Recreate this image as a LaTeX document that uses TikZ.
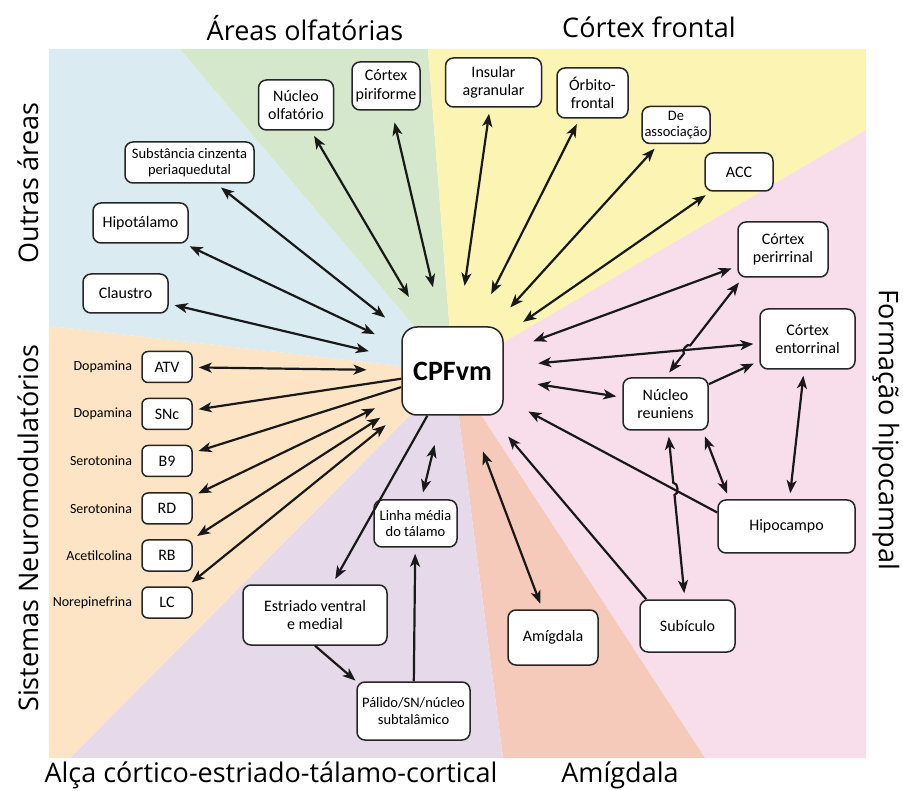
\documentclass[tikz,border=0pt]{standalone}
\usepackage{fontspec}
\setmainfont{Carlito}
\newfontfamily\titlefont{Open Sans}
\usepackage{xcolor}
\usetikzlibrary{positioning, arrows.meta, calc}

\definecolor{areaBlue}{RGB}{219,235,242}
\definecolor{areaGreen}{RGB}{214,232,204}
\definecolor{areaYellow}{RGB}{252,244,178}
\definecolor{areaPink}{RGB}{247,222,234}
\definecolor{areaSalmon}{RGB}{246,202,186}
\definecolor{areaPurple}{RGB}{230,218,234}
\definecolor{areaOrange}{RGB}{252,228,196}

\tikzset{
  box/.style={draw=black!85, line width=1.5pt, fill=white, rounded corners=8pt,
    align=center, inner sep=2pt, font=\fontsize{16}{18.5}\selectfont},
  smallbox/.style={box, font=\fontsize{14.5}{16.5}\selectfont},
  modbox/.style={box, minimum width=50pt, minimum height=31pt, rounded corners=6pt},
  modlbl/.style={inner sep=0pt, font=\fontsize{14}{16}\selectfont},
  area/.style={inner sep=0pt, font=\titlefont\fontsize{27}{30}\selectfont},
  tip/.tip={Stealth[length=13pt, width=10pt, inset=3.5pt]},
  link/.style={line width=2.2pt, black!90, tip-tip, shorten <=6pt, shorten >=6pt},
  tolink/.style={line width=2.2pt, black!90, -tip, shorten >=6pt}
}

\begin{document}
\begin{tikzpicture}[x=1pt, y=-1pt]
\useasboundingbox (0,0) rectangle (903,791);
\coordinate (c) at (453,372);
\fill[areaBlue] (c) -- (180,49) -- (49,49) -- (49,326) -- cycle;
\fill[areaGreen] (c) -- (428,49) -- (180,49) -- cycle;
\fill[areaYellow] (c) -- (866,130) -- (866,49) -- (428,49) -- cycle;
\fill[areaPink] (c) -- (705,758) -- (866,758) -- (866,130) -- cycle;
\fill[areaSalmon] (c) -- (503,758) -- (705,758) -- cycle;
\fill[areaPurple] (c) -- (70,758) -- (503,758) -- cycle;
\fill[areaOrange] (c) -- (49,326) -- (49,758) -- (70,758) -- cycle;

\node[area] (tolf) at (305,28) {Áreas olfatórias};
\node[area] (tfront) at (649,27) {Córtex frontal};
\node[area, rotate=90] (toutras) at (28,183) {Outras áreas};
\node[area, rotate=90] (tneuro) at (28,528) {Sistemas Neuromodulatórios};
\node[area, rotate=-90] (thipo) at (886,430) {Formação hipocampal};
\node[area] (talca) at (271,775) {Alça córtico-estriado-tálamo-cortical};
\node[area] (tamig) at (620,775) {Amígdala};

\node[box, minimum width=101pt, minimum height=88pt, rounded corners=15pt,
  font=\bfseries\fontsize{28}{30}\selectfont] (cpf) at (452.5,371) {CPFvm};
\node[circle, minimum size=160pt, inner sep=0pt, outer sep=0pt] (hub) at (cpf) {};

\node[box, minimum width=75pt, minimum height=50pt] (nolf) at (296,105) {Núcleo\\olfatório};
\node[box, minimum width=68pt, minimum height=48pt] (piri) at (386,86) {Córtex\\piriforme};
\node[smallbox, minimum width=129pt, minimum height=41pt] (scp) at (189.5,162.5) {Substância cinzenta\\periaquedutal};
\node[box, minimum width=95pt, minimum height=40pt] (hipot) at (140.5,223) {Hipotálamo};
\node[box, minimum width=85pt, minimum height=39pt] (claus) at (125.5,293.5) {Claustro};
\node[box, minimum width=96pt, minimum height=49pt] (ins) at (493.5,82.5) {Insular\\agranular};
\node[box, minimum width=71pt, minimum height=50pt] (orb) at (592.5,93) {Órbito-\\frontal};
\node[smallbox, inner sep=1pt, minimum width=68pt, minimum height=37pt] (assoc) at (676,125) {De\\associação};
\node[box, minimum width=68pt, minimum height=38pt] (acc) at (739,172) {ACC};
\node[box, minimum width=90pt, minimum height=55pt] (peri) at (783,249.5) {Córtex\\perirrinal};
\node[box, minimum width=95pt, minimum height=60pt] (ento) at (807.5,339) {Córtex\\entorrinal};
\node[box, minimum width=85pt, minimum height=52pt] (reun) at (665.5,404) {Núcleo\\reuniens};
\node[box, minimum width=137pt, minimum height=53pt] (hipoc) at (786.5,526.5) {Hipocampo};
\node[box, minimum width=95pt, minimum height=52pt] (sub) at (687.5,626) {Subículo};
\node[box, minimum width=90pt, minimum height=55pt] (amig) at (553,637.5) {Amígdala};
\node[box, minimum width=144pt, minimum height=60pt] (estr) at (315,615) {Estriado ventral\\e medial};
\node[smallbox, minimum width=113pt, minimum height=58pt] (pal) at (413.5,711) {Pálido/SN/núcleo\\subtalâmico};
\node[smallbox, minimum width=83pt, minimum height=47pt] (linha) at (415.5,523.5) {Linha média\\do tálamo};

\foreach \n/\t/\l/\y in {atv/ATV/Dopamina/367, snc/SNc/Dopamina/414, b9/B9/Serotonina/461,
    rd/RD/Serotonina/508.5, rb/RB/Acetilcolina/555.5, lc/LC/Norepinefrina/602.5} {
  \node[modbox] (\n) at (167,\y) {\t};
  \node[modlbl, left=9pt of \n] (\n-lbl) {\l};
}

\foreach \n in {claus, hipot, scp, nolf, ins, orb, assoc, acc, peri, ento, reun, amig, atv, rd, rb, lc}
  \draw[link] (\n) -- (hub);
\draw[link, shorten <=12pt] (piri) -- (hub);
\draw[tolink] ([yshift=14pt]hipoc.west) -- (hub);
\draw[tolink] ([xshift=7pt]sub.north west) -- (hub);
\draw[tolink] (cpf) -- (snc);
\draw[tolink] (cpf) -- (b9);
\draw[tolink] (cpf) -- (estr);
\draw[link, shorten <=30pt, shorten >=7pt] (cpf) -- (linha);
\draw[tolink] (pal) -- (linha);
\draw[tolink, shorten >=1pt] (estr.south) -- (pal.north west);

\draw[link] (peri.-145) -- ($(peri.-145)!0.68!(reun.north)$)
  to[bend right=90] ($(peri.-145)!0.76!(reun.north)$) -- (reun.north);
\draw[link] (reun) -- ($(reun)!0.355!(sub)$)
  to[bend left=90] ($(reun)!0.41!(sub)$) -- (sub);
\draw[tolink] (reun) -- (ento);
\draw[link] (ento) -- (hipoc);
\draw[link] ([xshift=-6pt]reun.south east) -- ([xshift=12pt]hipoc.north west);
\end{tikzpicture}
\end{document}
